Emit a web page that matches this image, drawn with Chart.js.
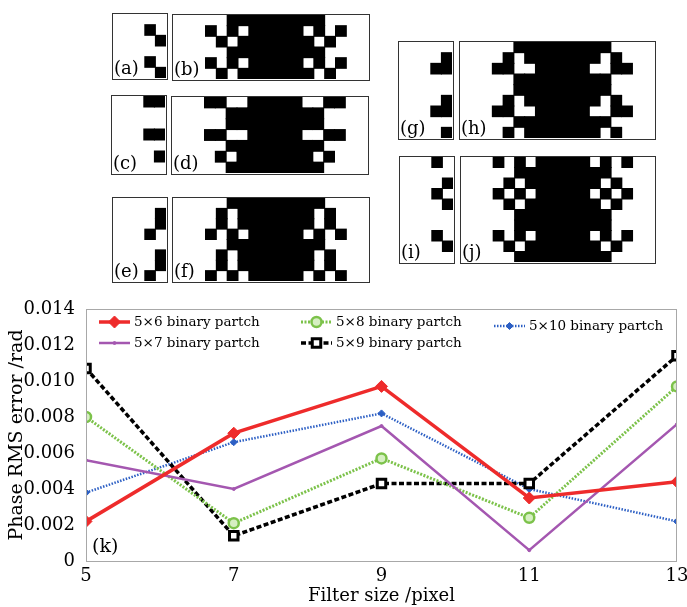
<!DOCTYPE html>
<html lang="en">
<head>
  <meta charset="UTF-8">
  <title>Phase RMS error vs filter size</title>
  <script src="https://cdn.jsdelivr.net/npm/chart.js@4.4.1/dist/chart.umd.min.js"></script>
  <style>
    body {
      margin: 0;
      width: 687px;
      height: 607px;
      position: relative;
      overflow: hidden;
      background: #fff;
      font-family: "DejaVu Serif", serif;
    }
    .patch {
      position: absolute;
      border: 1.5px solid #333;
      box-sizing: border-box;
      background: #fff;
    }
    .patch canvas { position: absolute; left: 0; top: 0; }
    .tag {
      position: absolute;
      left: 1px;
      bottom: 1px;
      font-size: 18px;
      line-height: 20px;
      color: #000;
    }
    #plotBox { position: absolute; left: 0; top: 290px; width: 687px; height: 317px; }
  </style>
</head>
<body>
  <div id="patches"></div>
  <div id="plotBox"><canvas id="errChart"></canvas></div>

  <script>
    // binary patterns (b) (d) (f) (h) (j), '#' = black cell, top row first
    const patternB = [
      '.....#########....',
      '...#.#.#####.#.#..',
      '....#.#######.#...',
      '.....#########....',
      '...#.#.#####.#.#..',
      '....#.#######.#...'
    ];
    const patternD = [
      '...##..#####..##..',
      '.....#########....',
      '.....#########....',
      '...##..#####..##..',
      '.....#########....',
      '....#.#######.#...',
      '.....#########....'
    ];
    const patternF = [
      '.....#########....',
      '....#.#######.#...',
      '....#.#######.#...',
      '...#.#.#####.#.#..',
      '.....#########....',
      '....#.#######.#...',
      '....#.#######.#...',
      '...#.#.#####.#.#..'
    ];
    const patternH = [
      '.....#########....',
      '....#.#######.#...',
      '...##..#####..##..',
      '.....#########....',
      '.....#########....',
      '....#.#######.#...',
      '...##..#####..##..',
      '.....#########....',
      '....#.#######.#...'
    ];
    const patternJ = [
      '...#.#.#####.#.#..',
      '.....#########....',
      '....#.#######.#...',
      '...#.#.#####.#.#..',
      '....#.#######.#...',
      '.....#########....',
      '.....#########....',
      '...#.#.#####.#.#..',
      '....#.#######.#...',
      '.....#########....'
    ];

    // line chart (k)
    const filterSizes = [5, 7, 9, 11, 13];
    const err5x6 = [0.0022, 0.0071, 0.0097, 0.0035, 0.0044];
    const err5x7 = [0.0056, 0.0040, 0.0075, 0.0006, 0.0076];
    const err5x8 = [0.0080, 0.0021, 0.0057, 0.0024, 0.0097];
    const err5x9 = [0.0107, 0.0014, 0.0043, 0.0043, 0.0114];
    const err5x10 = [0.0038, 0.0066, 0.0082, 0.0040, 0.0022];
    const seriesNames = ['5\u00d76 binary partch', '5\u00d77 binary partch', '5\u00d78 binary partch',
      '5\u00d79 binary partch', '5\u00d710 binary partch'];

    // small patch = first 5 columns of its big pattern
    const panels = [
      { tag: '(a)', rows: patternB, cols: 5, left: 112, top: 13, w: 56, h: 67 },
      { tag: '(b)', rows: patternB, cols: 18, left: 172, top: 14, w: 198, h: 67 },
      { tag: '(c)', rows: patternD, cols: 5, left: 111, top: 95, w: 56, h: 80 },
      { tag: '(d)', rows: patternD, cols: 18, left: 171, top: 96, w: 198, h: 79 },
      { tag: '(e)', rows: patternF, cols: 5, left: 112, top: 197, w: 56, h: 86 },
      { tag: '(f)', rows: patternF, cols: 18, left: 172, top: 197, w: 198, h: 86 },
      { tag: '(g)', rows: patternH, cols: 5, left: 398, top: 41, w: 56, h: 99 },
      { tag: '(h)', rows: patternH, cols: 18, left: 459, top: 41, w: 197, h: 99 },
      { tag: '(i)', rows: patternJ, cols: 5, left: 399, top: 156, w: 56, h: 108 },
      { tag: '(j)', rows: patternJ, cols: 18, left: 460, top: 156, w: 196, h: 108 }
    ];

    function drawPatch(p) {
      const box = document.createElement('div');
      box.className = 'patch';
      box.style.left = p.left + 'px';
      box.style.top = p.top + 'px';
      box.style.width = p.w + 'px';
      box.style.height = p.h + 'px';
      const cv = document.createElement('canvas');
      cv.width = p.w - 3;
      cv.height = p.h - 3;
      box.appendChild(cv);
      const tag = document.createElement('div');
      tag.className = 'tag';
      tag.textContent = p.tag;
      box.appendChild(tag);
      document.getElementById('patches').appendChild(box);

      const rows = p.rows.map(r => r.slice(0, p.cols));
      const labels = Array.from({ length: p.cols }, (_, i) => i);
      // stacked bars build bottom-up, so the last row goes first
      // white cells are left transparent so the inflated black cells close the seams
      const datasets = rows.slice().reverse().map(r => ({
        data: labels.map(() => 1),
        backgroundColor: r.split('').map(c => c === '#' ? '#000' : 'rgba(0,0,0,0)'),
        borderWidth: 0,
        inflateAmount: 0.5,
        barPercentage: 1,
        categoryPercentage: 1
      }));
      new Chart(cv, {
        type: 'bar',
        data: { labels: labels, datasets: datasets },
        options: {
          responsive: false,
          animation: false,
          layout: { padding: 0 },
          plugins: { legend: { display: false }, tooltip: { enabled: false } },
          scales: {
            x: { stacked: true, display: false },
            y: { stacked: true, display: false, min: 0, max: rows.length }
          }
        }
      });
    }
    panels.forEach(drawPatch);

    const serif = '"DejaVu Serif", serif';
    const pts = arr => filterSizes.map((x, i) => ({ x: x, y: arr[i] }));

    const datasets = [
      {
        label: seriesNames[0], data: pts(err5x6),
        borderColor: '#ee2b2b', backgroundColor: '#ee2b2b', borderWidth: 3.5,
        pointStyle: 'rectRot', pointRadius: 6, pointBorderWidth: 1
      },
      {
        label: seriesNames[1], data: pts(err5x7),
        borderColor: '#a457b0', backgroundColor: '#a457b0', borderWidth: 2.5,
        pointStyle: 'circle', pointRadius: 1.5, pointBorderWidth: 1
      },
      {
        label: seriesNames[2], data: pts(err5x8),
        borderColor: '#7cc24a', backgroundColor: '#d6efc2', borderWidth: 3, borderDash: [2, 1.5],
        pointStyle: 'circle', pointRadius: 5, pointBorderWidth: 2.5
      },
      {
        label: seriesNames[3], data: pts(err5x9),
        borderColor: '#000', backgroundColor: '#fff', borderWidth: 3.5, borderDash: [5, 2.5],
        pointStyle: 'rect', pointRadius: 6, pointBorderWidth: 3
      },
      {
        label: seriesNames[4], data: pts(err5x10),
        borderColor: '#2c5fc4', backgroundColor: '#2c5fc4', borderWidth: 2.5, borderDash: [1.5, 1.5],
        pointStyle: 'rectRot', pointRadius: 3.5, pointBorderWidth: 1
      }
    ];

    // legend inside plot, three columns; offsets relative to chart area
    const legendSpots = [
      { dx: 13, dy: 13 }, { dx: 13, dy: 34 },
      { dx: 215, dy: 13 }, { dx: 215, dy: 34 },
      { dx: 408, dy: 17 }
    ];

    const framePlugin = {
      id: 'frame',
      afterDraw(chart) {
        const { ctx, chartArea: a } = chart;
        ctx.save();
        ctx.strokeStyle = '#a8a8a8';
        ctx.lineWidth = 1;
        ctx.strokeRect(a.left + 0.5, a.top + 0.5, a.right - a.left - 1, a.bottom - a.top);

        ctx.fillStyle = '#000';
        ctx.font = '19px ' + serif;
        ctx.textBaseline = 'middle';
        ctx.fillText('(k)', a.left + 6, a.bottom - 14);

        ctx.font = '13.5px ' + serif;
        chart.data.datasets.forEach((ds, i) => {
          const s = legendSpots[i];
          const x0 = a.left + s.dx, y = a.top + s.dy;
          ctx.save();
          ctx.strokeStyle = ds.borderColor;
          ctx.lineWidth = ds.borderWidth;
          ctx.setLineDash(ds.borderDash || []);
          ctx.beginPath();
          ctx.moveTo(x0, y);
          ctx.lineTo(x0 + 31, y);
          ctx.stroke();
          ctx.setLineDash([]);
          ctx.fillStyle = ds.backgroundColor;
          ctx.strokeStyle = ds.borderColor;
          ctx.lineWidth = ds.pointBorderWidth;
          Chart.helpers.drawPoint(ctx, {
            pointStyle: ds.pointStyle, radius: ds.pointRadius,
            rotation: 0, borderWidth: ds.pointBorderWidth
          }, x0 + 15.5, y);
          ctx.restore();
          ctx.fillStyle = '#000';
          ctx.fillText(ds.label, x0 + 35, y);
        });
        ctx.restore();
      }
    };

    new Chart(document.getElementById('errChart'), {
      type: 'line',
      data: { datasets: datasets },
      options: {
        responsive: true,
        maintainAspectRatio: false,
        animation: false,
        layout: { padding: { left: 0, right: 10, top: 19, bottom: 0 } },
        plugins: {
          legend: { display: false },
          tooltip: { enabled: false }
        },
        scales: {
          x: {
            type: 'linear',
            min: 5,
            max: 13,
            grid: { display: false },
            border: { display: false },
            ticks: { stepSize: 2, color: '#000', padding: -3, font: { family: serif, size: 18 } },
            title: {
              display: true, text: 'Filter size /pixel', color: '#000',
              padding: { top: 0, bottom: 0 }, font: { family: serif, size: 18 }
            },
            afterFit(scale) { scale.height = 46; }
          },
          y: {
            min: 0,
            max: 0.014,
            grid: { display: false },
            border: { display: false },
            ticks: {
              stepSize: 0.002, color: '#000', padding: 3, font: { family: serif, size: 18 },
              callback: v => v === 0 ? '0' : v.toFixed(3)
            },
            title: {
              display: true, text: 'Phase RMS error /rad', color: '#000',
              padding: { top: 6, bottom: 0 }, font: { family: serif, size: 19 }
            },
            afterFit(scale) { scale.width = 86; }
          }
        }
      },
      plugins: [framePlugin]
    });
  </script>
</body>
</html>
